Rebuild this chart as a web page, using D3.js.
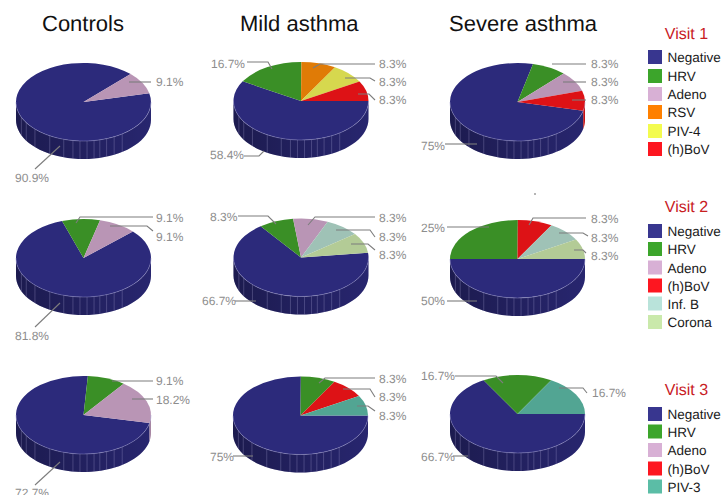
<!DOCTYPE html>
<html>
<head>
<meta charset="utf-8">
<script src="https://cdn.jsdelivr.net/npm/d3@7/dist/d3.min.js"></script>
<style>
html,body{margin:0;padding:0;background:#fff;overflow:hidden}
svg{display:block;font-family:"Liberation Sans",Arial,sans-serif;text-rendering:geometricPrecision}
</style>
</head>
<body>
<svg id="chart" width="722" height="495"></svg>
<script>
// Study groups and the virus categories reported at each visit
const groupNames = ["Controls", "Mild asthma", "Severe asthma"];
const visitNames = ["Visit 1", "Visit 2", "Visit 3"];
const visit1Categories = ["Negative", "HRV", "Adeno", "RSV", "PIV-4", "(h)BoV"];
const visit2Categories = ["Negative", "HRV", "Adeno", "(h)BoV", "Inf. B", "Corona"];
const visit3Categories = ["Negative", "HRV", "Adeno", "(h)BoV", "PIV-3"];

// Percentage of samples per category, aligned with the category lists above
const controlsVisit1 = [90.9, 0, 9.1, 0, 0, 0];
const mildVisit1 = [58.4, 16.7, 0, 8.3, 8.3, 8.3];
const severeVisit1 = [75, 8.3, 8.3, 0, 0, 8.3];
const controlsVisit2 = [81.8, 9.1, 9.1, 0, 0, 0];
const mildVisit2 = [66.7, 8.3, 8.3, 0, 8.3, 8.3];
const severeVisit2 = [50, 25, 0, 8.3, 8.3, 8.3];
const controlsVisit3 = [72.7, 9.1, 18.2, 0, 0];
const mildVisit3 = [75, 8.3, 0, 8.3, 8.3];
const severeVisit3 = [66.7, 16.7, 0, 0, 16.7];

// Swatch colours and the slightly deeper shade used on the pie tops
const swatchColor = new Map([
  ["Negative", "#38368f"], ["HRV", "#3ca52b"], ["Adeno", "#d8b0d5"], ["RSV", "#ff8000"],
  ["PIV-4", "#f3fb4f"], ["(h)BoV", "#fd1620"], ["Inf. B", "#b9e3da"], ["Corona", "#cae9ab"], ["PIV-3", "#5bbda6"]
]);
const topColor = new Map([
  ["Negative", "#2c2a7b"], ["HRV", "#3a8f26"], ["Adeno", "#b995b5"], ["RSV", "#e07b06"],
  ["PIV-4", "#d6d84e"], ["(h)BoV", "#dd1216"], ["Inf. B", "#9fc2b6"], ["Corona", "#b3cb96"], ["PIV-3", "#52a593"]
]);

// Pie layout: centre, first-slice rotation and the callout text/leader routes
const radiusX = 67.5, radiusY = 39, wallDepth = 18;
const wallSeamAngles = [-35, -27, -20, -14, -9, -3, 3, 9, 17, 30, 46, 58, 67];

const pies = [
  { values: controlsVisit1, cats: visit1Categories, cx: 83.5, cy: 102, start: 77, callouts: [
    [15, 178, [[35, 169], [60, 146]]],
    [156, 82, [[151, 82], [129, 82]]] ] },
  { values: mildVisit1, cats: visit1Categories, cx: 301, cy: 101, start: 90, callouts: [
    [210, 155, [[244, 156], [259, 156], [264, 151]]],
    [211, 64, [[247, 62], [268, 62], [272, 69]]],
    [379, 64, [[375, 64], [320, 64], [313, 68]]],
    [379, 82, [[375, 81], [370, 78], [345, 78]]],
    [379, 100, [[375, 100], [369, 94], [358, 94]]] ] },
  { values: severeVisit1, cats: visit1Categories, cx: 517.5, cy: 102, start: 103, callouts: [
    [421, 146, [[445, 144], [477, 144]]],
    [591, 64, [[586, 64], [552, 64]]],
    [591, 82, [[586, 82], [563, 82]]],
    [591, 100, [[586, 100], [572, 100]]] ] },
  { values: controlsVisit2, cats: visit2Categories, cx: 83.5, cy: 258, start: 47, callouts: [
    [15, 336, [[35, 327], [60, 303]]],
    [156, 218, [[153, 217], [80, 217], [76, 223]]],
    [156, 237, [[153, 231], [147, 226], [110, 226]]] ] },
  { values: mildVisit2, cats: visit2Categories, cx: 301, cy: 257.5, start: 83, callouts: [
    [202, 301, [[235, 301], [256, 301]]],
    [210, 217, [[238, 216], [268, 216], [276, 224]]],
    [379, 218, [[375, 217], [315, 217], [308, 225]]],
    [379, 237, [[375, 237], [370, 230], [336, 230]]],
    [379, 255, [[375, 250], [368, 244], [351, 244]]] ] },
  { values: severeVisit2, cats: visit2Categories, cx: 517.5, cy: 259, start: 90, callouts: [
    [421, 301, [[447, 301], [477, 301]]],
    [421, 228, [[447, 227], [489, 227]]],
    [591, 219, [[586, 218], [533, 218], [529, 225]]],
    [591, 238, [[588, 236], [583, 233], [559, 233]]],
    [591, 256, [[586, 253], [583, 250], [574, 250]]] ] },
  { values: controlsVisit3, cats: visit3Categories, cx: 83.5, cy: 415, start: 102, callouts: [
    [15, 493, [[35, 485], [60, 462]]],
    [156, 381, [[153, 381], [112, 381]]],
    [156, 400, [[153, 399], [132, 399]]] ] },
  { values: mildVisit3, cats: visit3Categories, cx: 300.5, cy: 415.5, start: 90, callouts: [
    [210, 457, [[233, 456], [253, 456]]],
    [379, 379, [[375, 378], [325, 378], [319, 383]]],
    [379, 397, [[375, 397], [370, 389], [343, 389]]],
    [379, 416, [[375, 411], [368, 406], [357, 406]]] ] },
  { values: severeVisit3, cats: visit3Categories, cx: 517.5, cy: 414, start: 90, callouts: [
    [421, 457, [[453, 456], [468, 456]]],
    [421, 376, [[455, 376], [496, 376], [503, 383]]],
    [592, 393, [[587, 393], [583, 388], [559, 388]]] ] }
];

const titleLayout = [[42, 31], [240, 31], [449, 31]];
const legendLayout = [
  { cats: visit1Categories, titleY: 39, rows: [50, 69, 87, 105, 124, 142] },
  { cats: visit2Categories, titleY: 212, rows: [224, 242, 260.5, 278.5, 296.5, 315] },
  { cats: visit3Categories, titleY: 395, rows: [407, 424.5, 443, 461.5, 479.5] }
];

const svg = d3.select("#chart");
const rad = d => d * Math.PI / 180;

// Shading across the side wall, darker on the left
const grad = svg.append("defs").append("linearGradient").attr("id", "wallShade");
grad.append("stop").attr("offset", "0%").attr("stop-color", "#000").attr("stop-opacity", 0.36);
grad.append("stop").attr("offset", "100%").attr("stop-color", "#000").attr("stop-opacity", 0.1);

const unitArc = d3.arc().innerRadius(0).outerRadius(1);
const rimLine = d3.line().x(d => d[0]).y(d => d[1]);

pies.forEach(p => {
  const sx = d3.scaleLinear().domain([-1, 1]).range([p.cx - radiusX, p.cx + radiusX]);
  const sy = d3.scaleLinear().domain([-1, 1]).range([p.cy - radiusY, p.cy + radiusY]);
  const rimPoint = a => [sx(Math.sin(a)), sy(-Math.cos(a))];

  const pie = d3.pie().sort(null)
    .startAngle(rad(p.start)).endAngle(rad(p.start + 360));
  const slices = pie(p.values).map((s, i) => ({ ...s, cat: p.cats[i] }));
  const g = svg.append("g");

  // Outline of the wall between two angles on the visible front of the rim
  const wallPath = (a0, a1) => {
    const steps = d3.range(0, 41).map(t => a0 + (a1 - a0) * t / 40);
    const upper = steps.map(rimPoint);
    const lower = steps.slice().reverse().map(a => {
      const q = rimPoint(a);
      return [q[0], q[1] + wallDepth];
    });
    return rimLine(upper.concat(lower)) + "Z";
  };
  const front0 = Math.PI / 2, front1 = Math.PI * 1.5;

  // Side wall, coloured per slice wherever it crosses the front
  slices.filter(s => s.value > 0).forEach(s => {
    [0, 2 * Math.PI].forEach(shift => {
      const a0 = Math.max(s.startAngle - shift, front0);
      const a1 = Math.min(s.endAngle - shift, front1);
      if (a1 > a0) {
        g.append("path").attr("d", wallPath(a0, a1)).attr("fill", topColor.get(s.cat));
      }
    });
  });
  g.append("path").attr("d", wallPath(front0, front1)).attr("fill", "url(#wallShade)");

  // Panel seams on the wall
  g.selectAll("line.seam").data(wallSeamAngles).join("line")
    .attr("class", "seam")
    .attr("x1", d => rimPoint(Math.PI + rad(d))[0])
    .attr("x2", d => rimPoint(Math.PI + rad(d))[0])
    .attr("y1", d => rimPoint(Math.PI + rad(d))[1])
    .attr("y2", d => rimPoint(Math.PI + rad(d))[1] + wallDepth)
    .attr("stroke", "#a8a6d2").attr("stroke-opacity", 0.5).attr("stroke-width", 0.6);

  // Top face: a unit-radius pie squashed into the ellipse
  g.append("g")
    .attr("transform", `translate(${p.cx},${p.cy}) scale(${radiusX},${radiusY})`)
    .selectAll("path").data(slices.filter(s => s.value > 0)).join("path")
    .attr("d", unitArc)
    .attr("fill", d => topColor.get(d.cat));

  // Pale highlight along the front rim
  g.append("path")
    .attr("d", rimLine(d3.range(0, 61).map(t => rimPoint(front0 + (front1 - front0) * t / 60))))
    .attr("fill", "none").attr("stroke", "#9c9ad0").attr("stroke-opacity", 0.6).attr("stroke-width", 0.7);

  // Callouts: leader line first, then the percentage beside it
  slices.filter(s => s.value > 0).forEach((s, i) => {
    const [tx, ty, route] = p.callouts[i];
    g.append("path").attr("d", rimLine(route))
      .attr("fill", "none").attr("stroke", "#7d7d7d").attr("stroke-width", 1.1);
    g.append("text").attr("x", tx).attr("y", ty).attr("dy", "0.36em")
      .attr("font-size", 12).attr("fill", "#8d8d8d").text(s.value + "%");
  });
});

// Column headings
svg.selectAll("text.group").data(groupNames).join("text")
  .attr("class", "group")
  .attr("x", (d, i) => titleLayout[i][0]).attr("y", (d, i) => titleLayout[i][1])
  .attr("font-size", 22).attr("fill", "#111").text(d => d);

// Per-visit legends
legendLayout.forEach((l, k) => {
  svg.append("text").attr("x", 686.5).attr("y", l.titleY).attr("text-anchor", "middle")
    .attr("font-size", 16).attr("fill", "#c8201f").text(visitNames[k]);
  const row = svg.append("g").selectAll("g").data(l.cats).join("g")
    .attr("transform", (d, i) => `translate(648,${l.rows[i]})`);
  row.append("rect").attr("width", 14).attr("height", 14).attr("fill", d => swatchColor.get(d));
  row.append("text").attr("x", 19.5).attr("y", 12).attr("font-size", 13.5).attr("fill", "#1a1a1a").text(d => d);
});

// Small speck above the lower right pie
svg.append("circle").attr("cx", 535).attr("cy", 194).attr("r", 0.7).attr("fill", "#333");
</script>
</body>
</html>
